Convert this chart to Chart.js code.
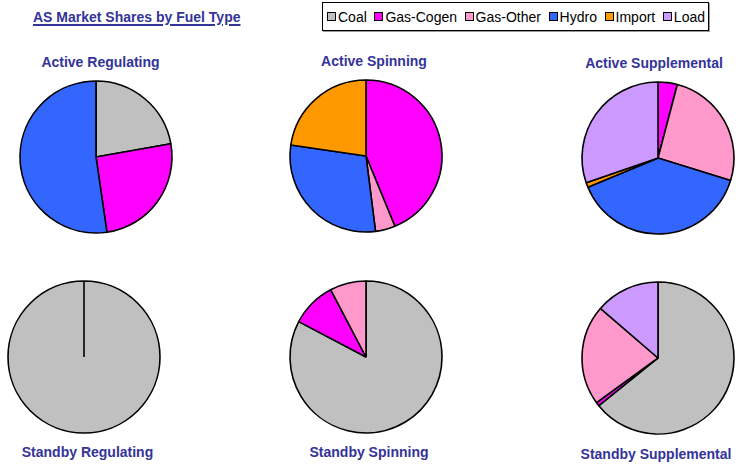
<!DOCTYPE html>
<html>
<head>
<meta charset="utf-8">
<script src="https://cdn.jsdelivr.net/npm/chart.js@4.4.1/dist/chart.umd.min.js"></script>
<style>
  html, body { margin: 0; padding: 0; background: #ffffff; }
  body { width: 741px; height: 464px; position: relative; overflow: hidden; font-family: "Liberation Sans", Arial, sans-serif; }
  #mainTitle { position: absolute; left: 33px; top: 9px; font-size: 14px; font-weight: bold; color: #333399; text-decoration: underline; text-decoration-thickness: 2px; text-underline-offset: 2px; white-space: nowrap; }
  #legend { position: absolute; left: 322px; top: 2px; width: 387px; height: 29px; box-sizing: border-box; border: 1px solid #000; box-shadow: 1px 1px 0 #999; display: flex; align-items: center; justify-content: space-between; padding: 0 3px 0 4px; font-size: 14px; color: #000; }
  .item { display: flex; align-items: center; white-space: nowrap; }
  .sw { width: 7px; height: 7px; border: 1px solid #000; margin-right: 2px; }
  .wrap { position: absolute; width: 170px; height: 170px; }
  .ptitle { position: absolute; font-size: 14px; font-weight: bold; color: #333399; white-space: nowrap; transform: translate(-50%, -50%); }
</style>
</head>
<body>
<div id="mainTitle">AS Market Shares by Fuel Type</div>
<div id="legend"></div>

<script>
// ---- Data ----
const categories = ["Coal", "Gas-Cogen", "Gas-Other", "Hydro", "Import", "Load"];
const chartTitles = ["Active Regulating", "Active Spinning", "Active Supplemental",
                     "Standby Regulating", "Standby Spinning", "Standby Supplemental"];
// shares (%) in category order
const activeRegulating    = [22.2, 25.5, 0,    52.3, 0,    0];
const activeSpinning      = [0,    43.8, 4.2,  29.3, 22.7, 0];
const activeSupplemental  = [0,    4.1,  25.7, 38.9, 1.0,  30.3];
const standbyRegulating   = [100,  0,    0,    0,    0,    0];
const standbySpinning     = [82.7, 9.6,  7.7,  0,    0,    0];
const standbySupplemental = [64.2, 0.8,  21.3, 0,    0,    13.7];

// ---- Styling / layout ----
const colors = ["#C0C0C0", "#FF00FF", "#FF99CC", "#3366FF", "#FF9900", "#CC99FF"];
const seriesList = [activeRegulating, activeSpinning, activeSupplemental,
                    standbyRegulating, standbySpinning, standbySupplemental];
const centers = [[95.6, 157.3], [365.6, 156.2], [657.5, 157.5],
                 [84.2, 357.3], [365.8, 357.0], [657.8, 357.5]];
const titlePos = [[100.5, 62], [374, 61], [654, 63],
                  [87.5, 452], [369, 452], [656, 454]];

// legend
const legend = document.getElementById('legend');
categories.forEach((c, i) => {
  const it = document.createElement('div');
  it.className = 'item';
  const sw = document.createElement('div');
  sw.className = 'sw';
  sw.style.background = colors[i];
  const tx = document.createElement('span');
  tx.textContent = c;
  it.appendChild(sw); it.appendChild(tx);
  legend.appendChild(it);
});

seriesList.forEach((vals, k) => {
  const wrap = document.createElement('div');
  wrap.className = 'wrap';
  wrap.style.left = (centers[k][0] - 85) + 'px';
  wrap.style.top = (centers[k][1] - 85) + 'px';
  const cv = document.createElement('canvas');
  cv.width = 170; cv.height = 170;
  wrap.appendChild(cv);
  document.body.appendChild(wrap);

  const t = document.createElement('div');
  t.className = 'ptitle';
  t.textContent = chartTitles[k];
  t.style.left = titlePos[k][0] + 'px';
  t.style.top = titlePos[k][1] + 'px';
  document.body.appendChild(t);

  new Chart(cv, {
    type: 'pie',
    data: {
      labels: categories,
      datasets: [{
        data: vals,
        backgroundColor: colors,
        borderColor: '#000000',
        borderWidth: 1.6,
        borderAlign: 'center'
      }]
    },
    options: {
      responsive: false,
      animation: false,
      radius: 76,
      layout: { padding: 0 },
      plugins: { legend: { display: false }, tooltip: { enabled: false }, title: { display: false } },
      events: []
    }
  });
});
</script>
</body>
</html>
